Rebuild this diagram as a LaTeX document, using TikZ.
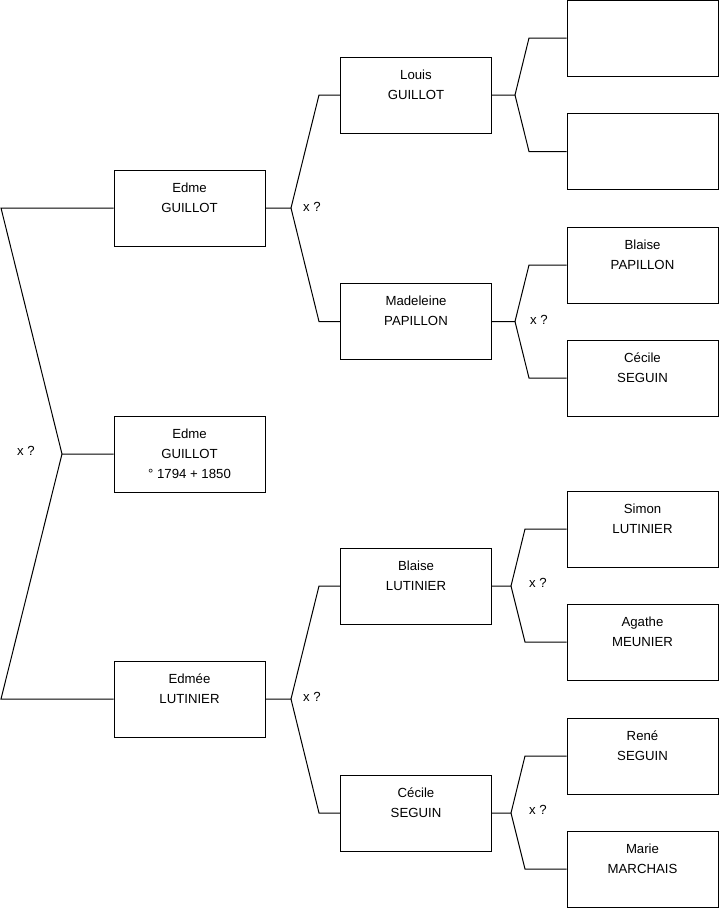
\documentclass[tikz,border=0pt]{standalone}
\usepackage{fontspec}
\setmainfont{Liberation Sans}
\usetikzlibrary{positioning}

\begin{document}
\begin{tikzpicture}[
		x=1pt, y=-1pt,
		line width=1pt,
		person/.style={rectangle, draw, minimum width=151pt, minimum height=76pt, inner sep=0pt, align=center, font=\fontsize{13.2}{20}\selectfont},
		union/.style={font=\fontsize{13.2}{14}\selectfont, inner sep=1pt}
	]
	\useasboundingbox (0,0) rectangle (719,908);

	% generation 0 to 2
	\node[person] (EdmeR) at (189.5,454) {Edme\\GUILLOT\\° 1794 + 1850\rule[-1pt]{0pt}{1pt}};
	\node[person] (EdmeG) at (189.5,208) {Edme\\GUILLOT\\\rule[-1pt]{0pt}{6pt}};
	\node[person] (EdmeeL) at (189.5,699) {Edmée\\LUTINIER\\\rule[-1pt]{0pt}{6pt}};
	\node[person] (LouisG) at (416,95) {Louis\\GUILLOT\\\rule[-1pt]{0pt}{6pt}};
	\node[person] (MadeleineP) at (416,321.5) {Madeleine\\PAPILLON\\\rule[-1pt]{0pt}{6pt}};
	\node[person] (BlaiseL) at (416,586) {Blaise\\LUTINIER\\\rule[-1pt]{0pt}{6pt}};
	\node[person] (CecileS) at (416,813) {Cécile\\SEGUIN\\\rule[-1pt]{0pt}{6pt}};

	% generation 3
	\node[person] (LouisF) at (642.5,38) {};
	\node[person] (LouisM) at (642.5,151.5) {};
	\node[person] (BlaiseP) at (642.5,265) {Blaise\\PAPILLON\\\rule[-1pt]{0pt}{6pt}};
	\node[person] (CecileSg) at (642.5,378) {Cécile\\SEGUIN\\\rule[-1pt]{0pt}{6pt}};
	\node[person] (SimonL) at (642.5,529) {Simon\\LUTINIER\\\rule[-1pt]{0pt}{6pt}};
	\node[person] (AgatheM) at (642.5,642) {Agathe\\MEUNIER\\\rule[-1pt]{0pt}{6pt}};
	\node[person] (ReneS) at (642.5,756) {René\\SEGUIN\\\rule[-1pt]{0pt}{6pt}};
	\node[person] (MarieM) at (642.5,869) {Marie\\MARCHAIS\\\rule[-1pt]{0pt}{6pt}};

	% forks
	\coordinate (J0) at (62,454);
	\coordinate (J0a) at (1,208);
	\coordinate (J0b) at (1,699);
	\coordinate (J1) at (291,208);
	\coordinate (J1a) at (319,95);
	\coordinate (J1b) at (319,321.5);
	\coordinate (J2) at (291,699);
	\coordinate (J2a) at (319,586);
	\coordinate (J2b) at (319,813);
	\coordinate (J3) at (515,95);
	\coordinate (J3a) at (529,38);
	\coordinate (J3b) at (529,151.5);
	\coordinate (J4) at (515,321.5);
	\coordinate (J4a) at (529,265);
	\coordinate (J4b) at (529,378);
	\coordinate (J5) at (511,586);
	\coordinate (J5a) at (525,529);
	\coordinate (J5b) at (525,642);
	\coordinate (J6) at (511,813);
	\coordinate (J6a) at (525,756);
	\coordinate (J6b) at (525,869);

	\draw (EdmeR.west) -- (J0) -- (J0a) -- (EdmeG.west);
	\draw (J0) -- (J0b) -- (EdmeeL.west);
	\draw (EdmeG.east) -- (J1) -- (J1a) -- (LouisG.west);
	\draw (J1) -- (J1b) -- (MadeleineP.west);
	\draw (EdmeeL.east) -- (J2) -- (J2a) -- (BlaiseL.west);
	\draw (J2) -- (J2b) -- (CecileS.west);
	\draw (LouisG.east) -- (J3) -- (J3a) -- (LouisF.west);
	\draw (J3) -- (J3b) -- (LouisM.west);
	\draw (MadeleineP.east) -- (J4) -- (J4a) -- (BlaiseP.west);
	\draw (J4) -- (J4b) -- (CecileSg.west);
	\draw (BlaiseL.east) -- (J5) -- (J5a) -- (SimonL.west);
	\draw (J5) -- (J5b) -- (AgatheM.west);
	\draw (CecileS.east) -- (J6) -- (J6a) -- (ReneS.west);
	\draw (J6) -- (J6b) -- (MarieM.west);

	% marriage marks
	\node[union] (X0) at (26,451) {x ?};
	\node[union] (X1) at (312,207) {x ?};
	\node[union] (X2) at (312,697) {x ?};
	\node[union] (X4) at (539,320) {x ?};
	\node[union] (X5) at (538,583) {x ?};
	\node[union] (X6) at (538,810) {x ?};

\end{tikzpicture}
\end{document}
